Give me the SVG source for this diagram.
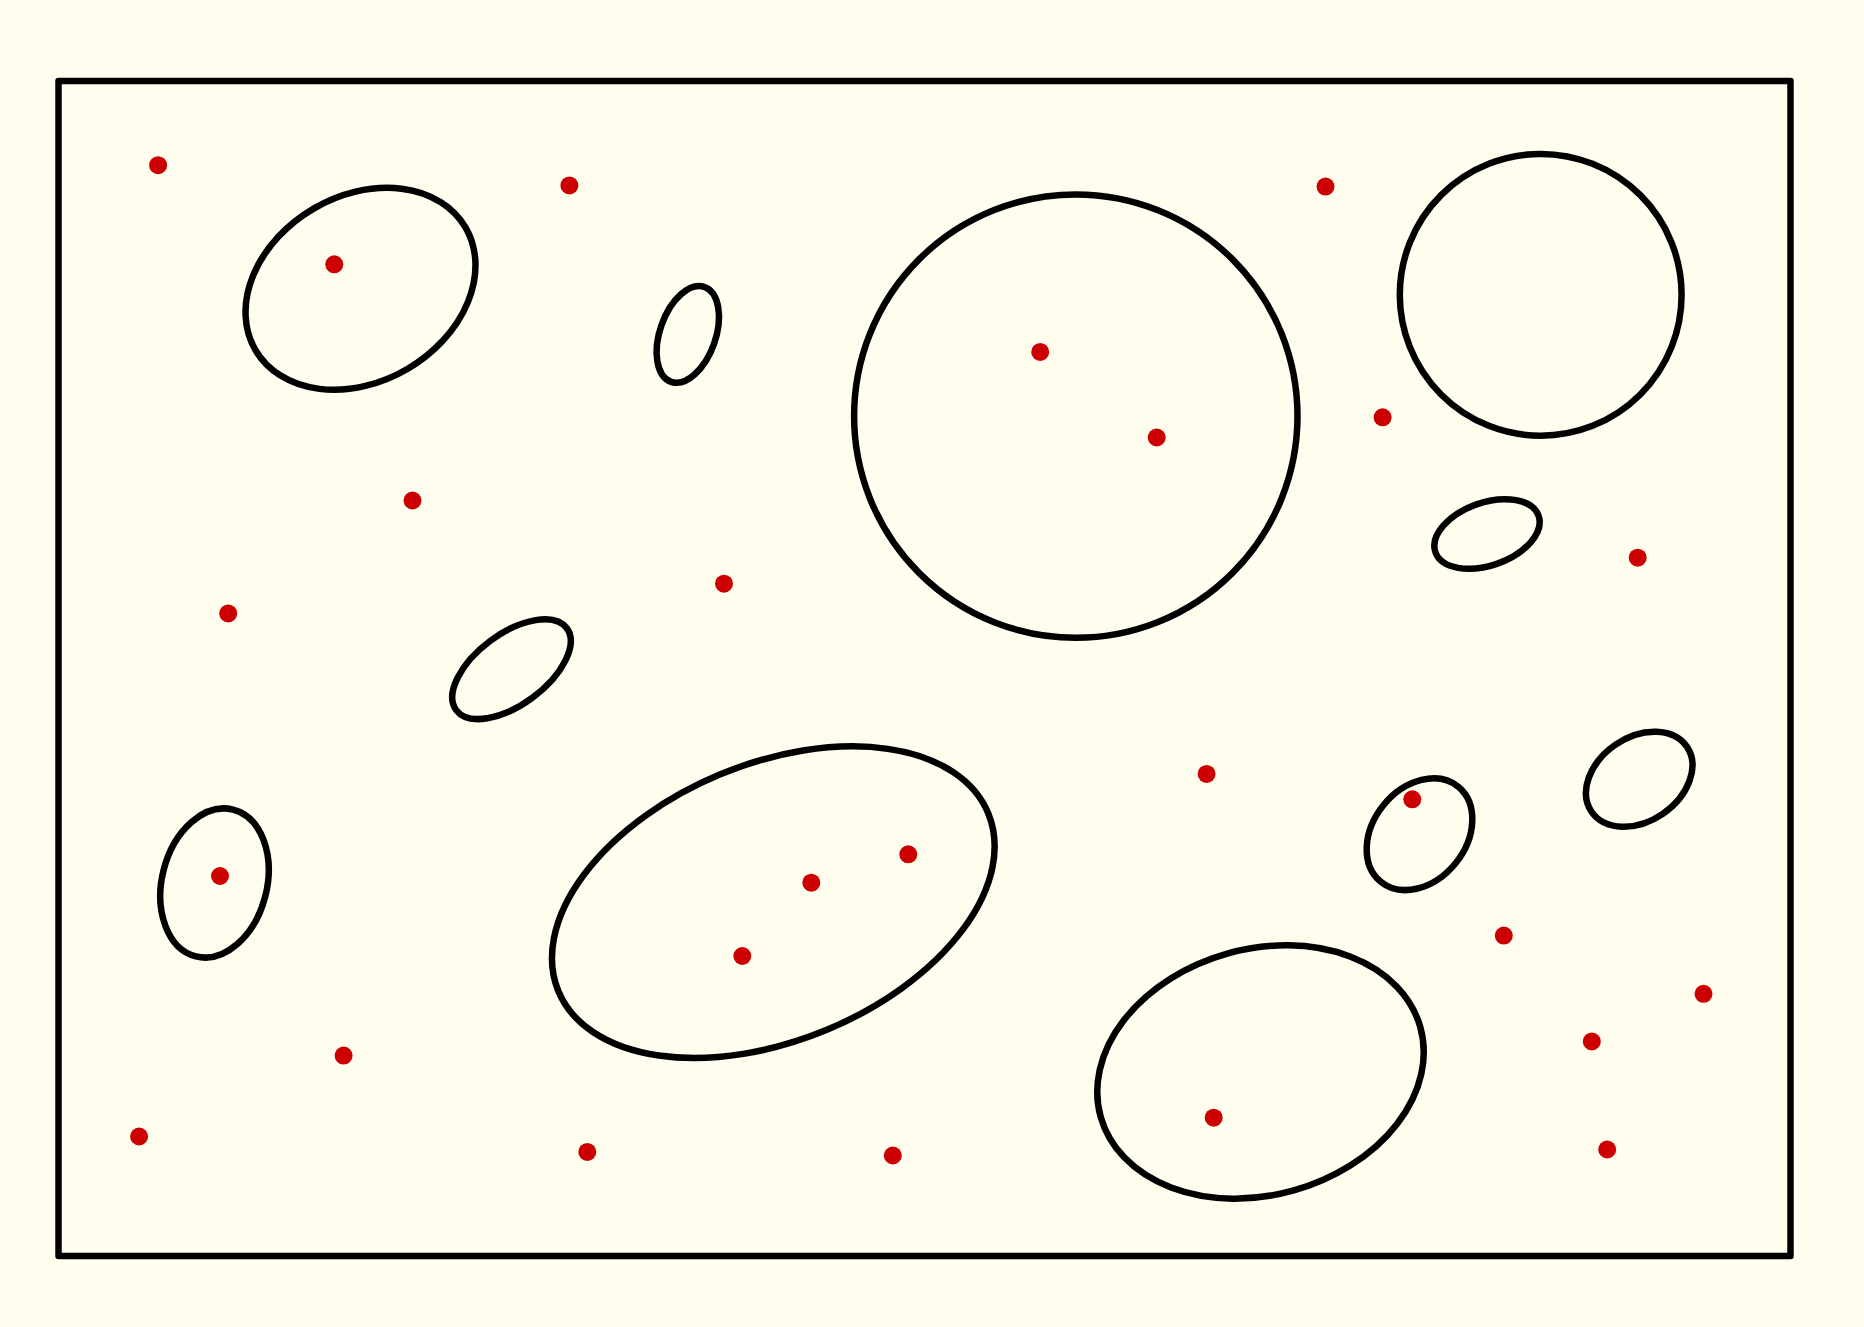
<svg xmlns="http://www.w3.org/2000/svg" width="1864" height="1327" viewBox="0 0 1864 1327">
<style>
.frame{fill:none;stroke:#000;stroke-width:6.5;stroke-linejoin:round}
.region{fill:none;stroke:#000;stroke-width:6.5}
.pt{fill:#cc0000}
</style>
<rect width="1864" height="1327" fill="#fffdee"/>
<rect id="frame" class="frame" x="58.5" y="81" width="1732" height="1175"/>
<g id="regions">
<ellipse id="rA" class="region" cx="360.5" cy="288.8" rx="121.6" ry="92.9" transform="rotate(-30.3 360.5 288.8)"/>
<ellipse id="rB" class="region" cx="687.8" cy="334.4" rx="50.3" ry="27.9" transform="rotate(-70.6 687.8 334.4)"/>
<circle id="rC" class="region" cx="1075.8" cy="416.1" r="221.7"/>
<circle id="rD" class="region" cx="1540.7" cy="294.8" r="140.9"/>
<ellipse id="rE" class="region" cx="1487" cy="534" rx="54.7" ry="31.4" transform="rotate(-19.5 1487 534)"/>
<ellipse id="rF" class="region" cx="511.5" cy="669.2" rx="68.8" ry="35.4" transform="rotate(-36.5 511.5 669.2)"/>
<ellipse id="rG" class="region" cx="773.3" cy="902.2" rx="232.6" ry="138.4" transform="rotate(-22.5 773.3 902.2)"/>
<ellipse id="rH" class="region" cx="214.5" cy="883" rx="75.7" ry="52.5" transform="rotate(-75.8 214.5 883)"/>
<ellipse id="rI" class="region" cx="1419.5" cy="834.2" rx="61.3" ry="46.3" transform="rotate(-50.8 1419.5 834.2)"/>
<ellipse id="rJ" class="region" cx="1639.2" cy="779.2" rx="57.7" ry="41.9" transform="rotate(-34.3 1639.2 779.2)"/>
<ellipse id="rK" class="region" cx="1260.5" cy="1072" rx="166" ry="123" transform="rotate(-15.7 1260.5 1072)"/>
</g>
<g id="points">
<circle class="pt" cx="158.1" cy="165.2" r="9"/>
<circle class="pt" cx="569.4" cy="185.4" r="9"/>
<circle class="pt" cx="334.3" cy="264.3" r="9"/>
<circle class="pt" cx="1325.5" cy="186.6" r="9"/>
<circle class="pt" cx="1040.2" cy="351.9" r="9"/>
<circle class="pt" cx="1156.7" cy="437.5" r="9"/>
<circle class="pt" cx="1382.6" cy="417.3" r="9"/>
<circle class="pt" cx="412.5" cy="500.5" r="9"/>
<circle class="pt" cx="228.2" cy="613.4" r="9"/>
<circle class="pt" cx="724.0" cy="583.7" r="9"/>
<circle class="pt" cx="1637.7" cy="557.7" r="9"/>
<circle class="pt" cx="1206.6" cy="773.9" r="9"/>
<circle class="pt" cx="1412.3" cy="799.3" r="9"/>
<circle class="pt" cx="220" cy="876" r="9"/>
<circle class="pt" cx="811.3" cy="882.7" r="9"/>
<circle class="pt" cx="908.3" cy="854.3" r="9"/>
<circle class="pt" cx="742.3" cy="956" r="9"/>
<circle class="pt" cx="1503.8" cy="935.6" r="9"/>
<circle class="pt" cx="1703.5" cy="993.8" r="9"/>
<circle class="pt" cx="343.6" cy="1055.6" r="9"/>
<circle class="pt" cx="1591.8" cy="1041.4" r="9"/>
<circle class="pt" cx="139.1" cy="1136.5" r="9"/>
<circle class="pt" cx="587.3" cy="1151.9" r="9"/>
<circle class="pt" cx="892.8" cy="1155.5" r="9"/>
<circle class="pt" cx="1213.7" cy="1117.7" r="9"/>
<circle class="pt" cx="1607.2" cy="1149.5" r="9"/>
</g>
</svg>
